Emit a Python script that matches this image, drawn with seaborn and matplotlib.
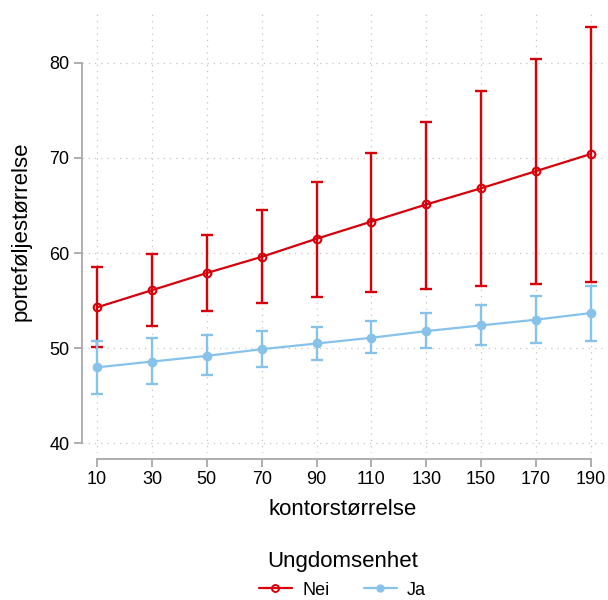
import pandas as pd
import matplotlib
matplotlib.use('Agg')
import matplotlib.pyplot as plt
from matplotlib.lines import Line2D
import seaborn as sns

# Values
kontor = [10, 30, 50, 70, 90, 110, 130, 150, 170, 190]
nei_mean = [54.3, 56.1, 57.9, 59.6, 61.5, 63.3, 65.1, 66.8, 68.6, 70.4]
nei_low = [50.1, 52.3, 53.9, 54.8, 55.4, 55.9, 56.2, 56.5, 56.7, 57.0]
nei_high = [58.5, 59.9, 61.9, 64.5, 67.5, 70.5, 73.8, 77.0, 80.4, 83.7]
ja_mean = [48.0, 48.6, 49.2, 49.9, 50.5, 51.1, 51.8, 52.4, 53.0, 53.7]
ja_low = [45.2, 46.2, 47.2, 48.0, 48.8, 49.5, 50.0, 50.3, 50.6, 50.8]
ja_high = [50.8, 51.1, 51.4, 51.8, 52.2, 52.9, 53.7, 54.5, 55.5, 56.5]
y_ticks = [40, 50, 60, 70, 80]

red = '#D7000A'
blue = '#86C2EA'
grey = '#A8A8A8'

sns.set_style('white')
plt.rcParams['font.family'] = ['Liberation Sans', 'DejaVu Sans']
plt.rcParams['text.color'] = 'black'
plt.rcParams['axes.labelcolor'] = 'black'

df = pd.DataFrame({
    'kontorstørrelse': kontor * 2,
    'porteføljestørrelse': nei_mean + ja_mean,
    'Ungdomsenhet': ['Nei'] * len(kontor) + ['Ja'] * len(kontor),
})

fig = plt.figure(figsize=(6.08, 6.0), dpi=100)
ax = fig.add_axes([0.135, 0.245, 0.857, 0.738])

# error bars first, lines and markers on top
ax.errorbar(kontor, nei_mean,
            yerr=[[m - l for m, l in zip(nei_mean, nei_low)], [h - m for m, h in zip(nei_mean, nei_high)]],
            fmt='none', ecolor=red, elinewidth=1.7, capsize=4.3, capthick=1.7, zorder=3)
ax.errorbar(kontor, ja_mean,
            yerr=[[m - l for m, l in zip(ja_mean, ja_low)], [h - m for m, h in zip(ja_mean, ja_high)]],
            fmt='none', ecolor=blue, elinewidth=1.7, capsize=4.3, capthick=1.7, zorder=3)

sns.lineplot(data=df[df['Ungdomsenhet'] == 'Nei'], x='kontorstørrelse', y='porteføljestørrelse',
             color=red, linewidth=1.6, marker='o', markersize=5.5, markerfacecolor='none',
             markeredgecolor=red, markeredgewidth=1.5, ax=ax, legend=False, zorder=4)
sns.lineplot(data=df[df['Ungdomsenhet'] == 'Ja'], x='kontorstørrelse', y='porteføljestørrelse',
             color=blue, linewidth=1.6, marker='o', markersize=7, markeredgewidth=0,
             ax=ax, legend=False, zorder=4)

ax.set_xlim(4.5, 194.5)
ax.set_ylim(39, 85.5)
ax.set_xticks(kontor)
ax.set_yticks(y_ticks)
ax.grid(True, linestyle=(0, (1, 4)), color='#C4C4C4', linewidth=0.9)

sns.despine(ax=ax)
ax.spines['left'].set_bounds(40, 80)
ax.spines['bottom'].set_bounds(10, 190)
ax.spines['bottom'].set_position(('outward', 4))
for s in ['left', 'bottom']:
    ax.spines[s].set_color(grey)
    ax.spines[s].set_linewidth(1.3)
ax.tick_params(axis='both', which='major', direction='out', length=6, width=1.3,
               color=grey, labelcolor='black', labelsize=13, pad=3, left=True, bottom=True)

ax.set_xlabel('kontorstørrelse', fontsize=16, labelpad=8)
ax.set_ylabel('porteføljestørrelse', fontsize=16, labelpad=13)

handles = [
    Line2D([0], [0], color=red, linewidth=1.6, marker='o', markersize=5,
           markerfacecolor='none', markeredgecolor=red, markeredgewidth=1.4),
    Line2D([0], [0], color=blue, linewidth=1.6, marker='o', markersize=6, markeredgewidth=0),
]
leg = fig.legend(handles, ['Nei', 'Ja'], title='Ungdomsenhet', loc='lower center',
                 bbox_to_anchor=(0.563, -0.025), ncol=2, frameon=False, fontsize=13,
                 title_fontsize=16, handlelength=1.85, columnspacing=1.9, handletextpad=0.55)
leg._legend_box.sep = 7

fig.savefig('out.png', dpi=100)
